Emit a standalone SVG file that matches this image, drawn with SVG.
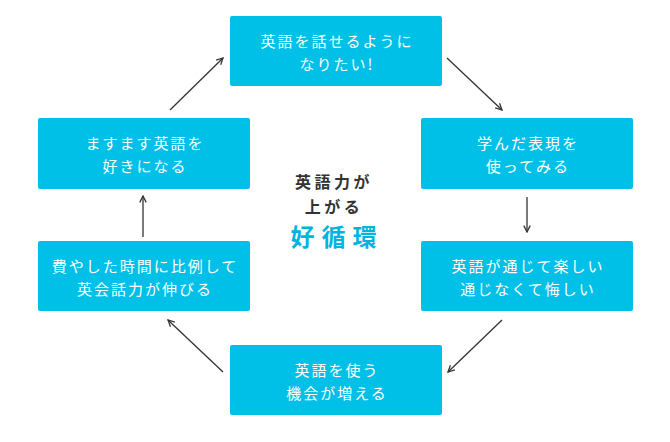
<svg xmlns="http://www.w3.org/2000/svg" width="670" height="442" viewBox="0 0 670 442">
<defs>
<style>
.box{fill:#00C0E8;}
.t{font-family:"Noto Sans CJK JP","Noto Sans",sans-serif;font-size:15px;fill:#fff;text-anchor:middle;letter-spacing:2px;}
.c{font-family:"Noto Sans CJK JP","Noto Sans",sans-serif;font-size:16px;font-weight:bold;fill:#333;text-anchor:middle;letter-spacing:3.5px;}
.k{font-family:"Noto Sans CJK JP","Noto Sans",sans-serif;font-size:24px;font-weight:bold;fill:#00B4E0;text-anchor:middle;letter-spacing:7px;}
.a{stroke:#333;stroke-width:1.3;fill:none;marker-end:url(#ah);}
</style>
<marker id="ah" viewBox="0 0 10 10" refX="9" refY="5" markerWidth="8" markerHeight="8" markerUnits="userSpaceOnUse" orient="auto">
<path d="M1,1 L9,5 L1,9" fill="none" stroke="#333" stroke-width="1.6"/>
</marker>
</defs>
<rect width="670" height="442" fill="#fff"/>
<g id="n1"><rect class="box" x="230" y="16" width="212" height="70" rx="2"/>
<text class="t" x="337" y="47">英語を話せるように</text>
<text class="t" x="337" y="70">なりたい!</text></g>
<g id="n2"><rect class="box" x="421" y="118" width="212" height="71" rx="2"/>
<text class="t" x="528" y="149">学んだ表現を</text>
<text class="t" x="528" y="172">使ってみる</text></g>
<g id="n3"><rect class="box" x="421" y="241" width="212" height="70" rx="2"/>
<text class="t" x="528" y="272">英語が通じて楽しい</text>
<text class="t" x="528" y="295">通じなくて悔しい</text></g>
<g id="n4"><rect class="box" x="230" y="345" width="212" height="70" rx="2"/>
<text class="t" x="337" y="376">英語を使う</text>
<text class="t" x="337" y="399">機会が増える</text></g>
<g id="n5"><rect class="box" x="38" y="241" width="212" height="70" rx="2"/>
<text class="t" x="145" y="272">費やした時間に比例して</text>
<text class="t" x="145" y="295">英会話力が伸びる</text></g>
<g id="n6"><rect class="box" x="38" y="118" width="212" height="71" rx="2"/>
<text class="t" x="145" y="149">ますます英語を</text>
<text class="t" x="145" y="172">好きになる</text></g>
<g id="center">
<text class="c" x="334" y="188">英語力が</text>
<text class="c" x="334" y="213">上がる</text>
<text class="k" x="337" y="246">好循環</text>
</g>
<g id="connectors">
<line class="a" x1="170" y1="110" x2="223" y2="58"/>
<line class="a" x1="447" y1="58" x2="502" y2="110"/>
<line class="a" x1="527" y1="197" x2="527" y2="232"/>
<line class="a" x1="502" y1="320" x2="448" y2="372"/>
<line class="a" x1="223" y1="372" x2="168" y2="320"/>
<line class="a" x1="143" y1="237" x2="143" y2="196"/>
</g>
</svg>
